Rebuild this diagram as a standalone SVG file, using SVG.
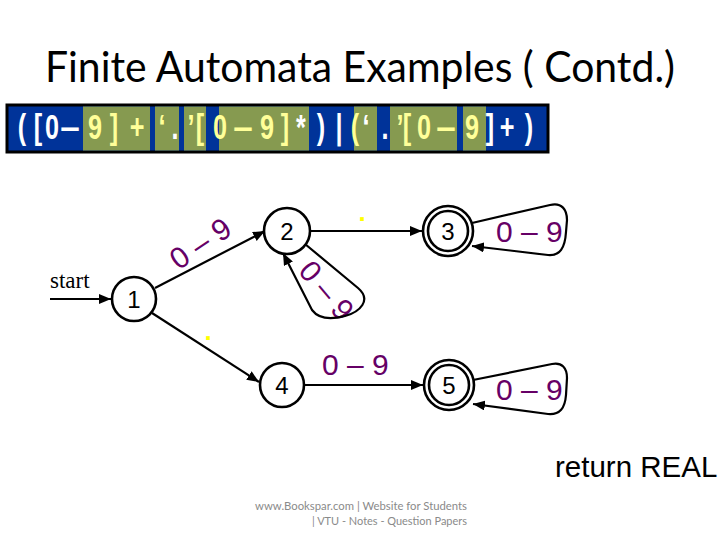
<svg xmlns="http://www.w3.org/2000/svg" width="720" height="540" viewBox="0 0 720 540">
<defs>
<style>
.title{font-family:Lato,"Open Sans","Liberation Sans",sans-serif;font-size:42px;fill:#000}
.bn{font-family:"Liberation Sans",Arial,sans-serif;font-weight:bold;font-size:35px;text-anchor:middle}
.w{fill:#ffffff}.y{fill:#ffff99}
.node circle{fill:#fff;stroke:#000;stroke-width:2.6}
.nl{font-family:"Liberation Sans",Arial,sans-serif;font-size:24px;text-anchor:middle;fill:#000}
.edge{fill:none;stroke:#000;stroke-width:2.2}
.lab{font-family:"Liberation Sans",Arial,sans-serif;font-size:30px;fill:#660066}
.dot{font-family:"Liberation Sans",Arial,sans-serif;font-size:26px;font-weight:bold;fill:#ffff00;text-anchor:middle}
.foot{font-family:Lato,"Open Sans","Liberation Sans",sans-serif;font-size:11px;fill:#8a8a8a}
</style>
<marker id="ah" viewBox="0 0 12 10" refX="12" refY="5" markerWidth="12" markerHeight="10" markerUnits="userSpaceOnUse" orient="auto">
<path d="M0,0 L12,5 L0,10 z" fill="#000"/>
</marker>
</defs>
<rect width="720" height="540" fill="#fff"/>
<text class="title" x="45" y="82" textLength="630" lengthAdjust="spacingAndGlyphs">Finite Automata Examples ( Contd.)</text>

<g id="banner">
<rect x="7" y="105" width="541" height="47" fill="#003399" stroke="#000" stroke-width="3"/>
<g fill="#869a50">
<rect x="83" y="106.5" width="67" height="44"/>
<rect x="155" y="106.5" width="24" height="44"/>
<rect x="184" y="106.5" width="22" height="44"/>
<rect x="219" y="106.5" width="90" height="44"/>
<rect x="354" y="106.5" width="23" height="44"/>
<rect x="390" y="106.5" width="67" height="44"/>
<rect x="463" y="106.5" width="23" height="44"/>
</g>
<g class="bn">
<text class="w" transform="translate(22,139) scale(0.72,1)">(</text>
<text class="w" transform="translate(38,139) scale(0.72,1)">[</text>
<text class="w" transform="translate(52,139) scale(0.72,1)">0</text>
<text class="w" transform="translate(70,139)">–</text>
<text class="y" transform="translate(95,139) scale(0.72,1)">9</text>
<text class="y" transform="translate(114,139) scale(0.72,1)">]</text>
<text class="y" transform="translate(137,139) scale(0.72,1)">+</text>
<text class="y" transform="translate(162,139) scale(0.72,1)">‘</text>
<text class="w" transform="translate(175,139) scale(0.72,1)">.</text>
<text class="y" transform="translate(191,139) scale(0.72,1)">’</text>
<text class="y" transform="translate(200,139) scale(0.72,1)">[</text>
<text class="y" transform="translate(220,139) scale(0.72,1)">0</text>
<text class="y" transform="translate(243,139)">–</text>
<text class="y" transform="translate(267,139) scale(0.72,1)">9</text>
<text class="y" transform="translate(285,139) scale(0.72,1)">]</text>
<text class="w" transform="translate(301,139) scale(0.72,1)">*</text>
<text class="w" transform="translate(321,139) scale(0.72,1)">)</text>
<text class="w" transform="translate(339,139) scale(0.72,1)">|</text>
<text class="y" transform="translate(355,139) scale(0.72,1)">(</text>
<text class="w" transform="translate(366,139) scale(0.72,1)">‘</text>
<text class="w" transform="translate(385,139) scale(0.72,1)">.</text>
<text class="y" transform="translate(400,139) scale(0.72,1)">’</text>
<text class="y" transform="translate(407,139) scale(0.72,1)">[</text>
<text class="y" transform="translate(424,139) scale(0.72,1)">0</text>
<text class="y" transform="translate(446,139)">–</text>
<text class="y" transform="translate(472,139) scale(0.72,1)">9</text>
<text class="w" transform="translate(490,139) scale(0.72,1)">]</text>
<text class="w" transform="translate(507,139) scale(0.72,1)">+</text>
<text class="w" transform="translate(529,139) scale(0.72,1)">)</text>
</g>
</g>

<g id="labels">
<text class="lab" text-anchor="middle" transform="translate(200,243) rotate(-34) translate(0,11)">0 – 9</text>
<text class="lab" text-anchor="middle" transform="translate(327,290) rotate(50) translate(0,11)">0 – 9</text>
<text class="lab" x="496" y="242">0 – 9</text>
<text class="lab" x="322" y="375">0 – 9</text>
<text class="lab" x="496" y="400">0 – 9</text>
<text class="dot" x="362" y="221">.</text>
<text class="dot" x="208" y="340">.</text>
</g>

<g id="connectors">
<line class="edge" x1="50" y1="299" x2="111" y2="299" marker-end="url(#ah)"/>
<line class="edge" x1="155" y1="288" x2="265" y2="231" marker-end="url(#ah)"/>
<line class="edge" x1="310" y1="231" x2="422" y2="231" marker-end="url(#ah)"/>
<line class="edge" x1="152" y1="313" x2="259" y2="382" marker-end="url(#ah)"/>
<line class="edge" x1="304" y1="385" x2="423" y2="385" marker-end="url(#ah)"/>
<path class="edge" d="M305,244 L358,288 C372,300 360,312 345,316 C330,320 318,318 312,310 L283,253" marker-end="url(#ah)"/>
<path class="edge" d="M472,223 L550,205 C562,202 567,210 567,220 L566,232 C565,248 560,256 548,255 L472,246" marker-end="url(#ah)"/>
<path class="edge" d="M473,380 L552,364 C562,362 567,368 567,378 L566,395 C565,408 560,415 548,414 L473,404" marker-end="url(#ah)"/>
</g>

<text x="50" y="288" font-family="'Liberation Serif','Times New Roman',serif" font-size="23" fill="#000">start</text>

<g id="n1" class="node"><circle cx="134" cy="299" r="22"/><text class="nl" x="134" y="308">1</text></g>
<g id="n2" class="node"><circle cx="287" cy="231" r="23"/><text class="nl" x="287" y="240">2</text></g>
<g id="n3" class="node"><circle cx="448" cy="231" r="25"/><circle cx="448" cy="231" r="20"/><text class="nl" x="448" y="240">3</text></g>
<g id="n4" class="node"><circle cx="282" cy="385" r="22"/><text class="nl" x="282" y="394">4</text></g>
<g id="n5" class="node"><circle cx="449" cy="385" r="25"/><circle cx="449" cy="385" r="20"/><text class="nl" x="449" y="394">5</text></g>

<text x="555" y="477" font-family="'Liberation Sans',Arial,sans-serif" font-size="29.5" fill="#000">return REAL</text>
<text class="foot" x="255" y="510" textLength="212" lengthAdjust="spacingAndGlyphs">www.Bookspar.com | Website for Students</text>
<text class="foot" x="312" y="525" textLength="155" lengthAdjust="spacingAndGlyphs">| VTU - Notes - Question Papers</text>
</svg>
